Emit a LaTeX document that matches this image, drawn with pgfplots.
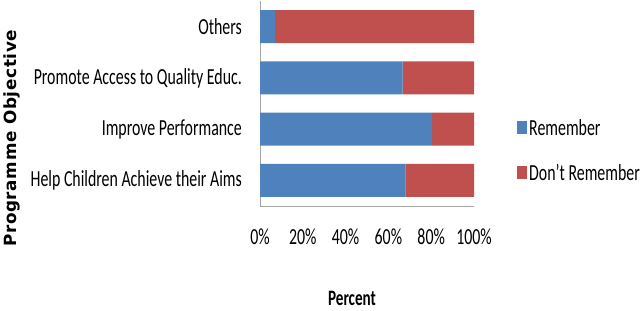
\documentclass[border=0pt]{standalone}
\usepackage{pgfplots}
\pgfplotsset{compat=1.18}
\usepackage{fontspec}
\setmainfont{Carlito}[FakeStretch=0.69]
\newfontfamily\ylabfont{DejaVu Sans}[LetterSpace=4]
\definecolor{exblue}{HTML}{4F81BD}
\definecolor{exred}{HTML}{C0504D}
\begin{document}
\begin{tikzpicture}
\useasboundingbox (0bp,0bp) rectangle (641bp,311bp);
\begin{axis}[
  at={(260bp,105bp)}, anchor=south west,
  width=214bp, height=205bp, scale only axis,
  xbar stacked, bar width=33bp,
  xmin=0, xmax=100, ymin=-0.5, ymax=3.5,
  ytick={0,1,2,3},
  yticklabels={Help Children Achieve their Aims, Improve Performance, Promote Access to Quality Educ., Others},
  xtick={0,20,40,60,80,100},
  xticklabels={0\%,20\%,40\%,60\%,80\%,100\%},
  major tick length=0pt,
  axis x line*=bottom, axis y line*=left,
  axis line style={-, draw=gray!70, line width=0.8pt},
  tick label style={font=\fontsize{23bp}{27bp}\selectfont},
  yticklabel style={anchor=east, inner sep=0pt, xshift=-18bp},
  xticklabel style={anchor=north, inner sep=0pt, yshift=-23bp},
  xlabel={Percent},
  xlabel style={font=\bfseries\fontsize{22bp}{26bp}\selectfont, at={(axis description cs:0.43,-0.45)}, anchor=center},
  ylabel={Programme Objective},
  ylabel style={font=\ylabfont\bfseries\fontsize{16.8bp}{20bp}\selectfont, at={(axis description cs:-1.159,0.33)}, anchor=center},
  legend style={at={(axis description cs:1.201,0.27)}, anchor=west, draw=none, fill=none,
    font=\fontsize{23bp}{27bp}\selectfont, row sep=24bp, inner sep=0pt,
    cells={anchor=west}},
  legend image code/.code={\fill[#1] (0bp,-6bp) rectangle (10bp,7bp);},
]
\addplot[fill=exblue, draw=none] coordinates {(67.9,0) (80.4,1) (66.7,2) (6.9,3)};
\addplot[fill=exred, draw=none] coordinates {(32.1,0) (19.6,1) (33.3,2) (93.1,3)};
\legend{Remember, Don't Remember}
\end{axis}
\end{tikzpicture}
\end{document}
